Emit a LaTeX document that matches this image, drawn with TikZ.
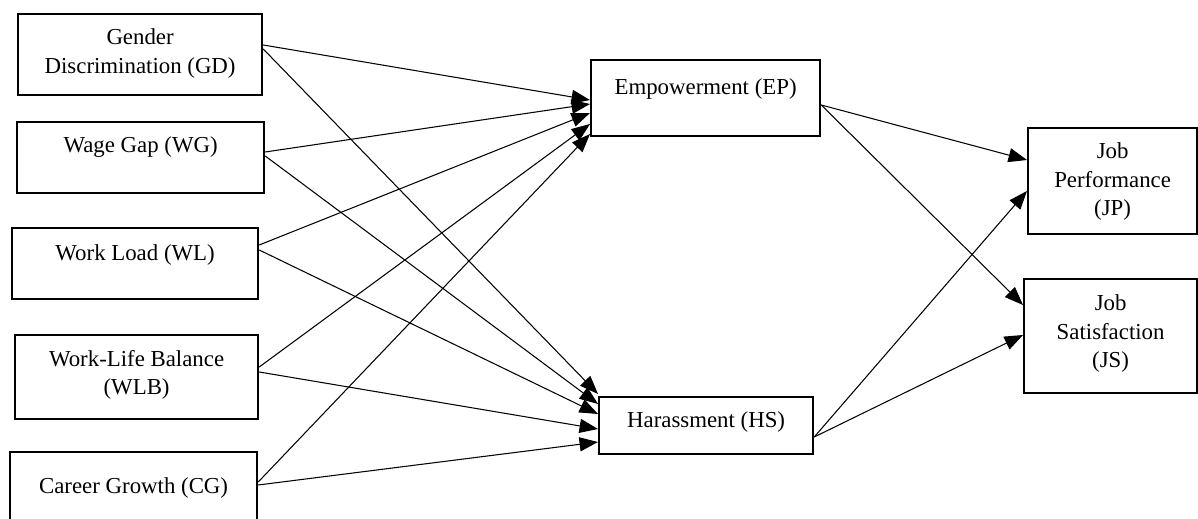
\documentclass[tikz,border=0pt]{standalone}
\usepackage{fontspec}
\setmainfont{Liberation Serif}
\usetikzlibrary{arrows.meta}

\tikzset{
    var/.style={draw, line width=1.3pt, inner sep=0pt, anchor=north west},
    link/.style={-{Triangle[length=10.5pt,width=8pt]}, line width=0.6pt},
}
\newcommand{\boxtext}[4]{\parbox[t][#2][t]{#1}{\centering\vspace*{#3}#4}}

\begin{document}
\begin{tikzpicture}[x=0.02cm, y=-0.02cm, font=\fontsize{13}{16}\selectfont]
    \useasboundingbox (0,0) rectangle (1198,519);

    % predictors
    \node[var] (GD) at (17,13) {\boxtext{4.88cm}{1.62cm}{0.30cm}{Gender\\Discrimination (GD)}};
    \node[var] (WG) at (16,121) {\boxtext{4.94cm}{1.42cm}{0.30cm}{Wage Gap (WG)}};
    \node[var] (WL) at (11,227) {\boxtext{4.92cm}{1.42cm}{0.34cm}{Work Load (WL)}};
    \node[var] (WLB) at (14,334) {\boxtext{4.86cm}{1.68cm}{0.30cm}{Work-Life Balance\\(WLB)}};
    \node[var] (CG) at (9,451) {\boxtext{4.94cm}{1.60cm}{0.52cm}{Career Growth (CG)}};

    % mediators
    \node[var] (EP) at (590,59) {\boxtext{4.58cm}{1.52cm}{0.38cm}{Empowerment (EP)}};
    \node[var] (HS) at (598,396) {\boxtext{4.28cm}{1.14cm}{0.30cm}{Harassment (HS)}};

    % outcomes
    \node[var] (JP) at (1027,127) {\boxtext{3.38cm}{2.12cm}{0.30cm}{Job\\Performance\\(JP)}};
    \node[var] (JS) at (1023,278) {\boxtext{3.46cm}{2.28cm}{0.32cm}{Job\\Satisfaction\\(JS)}};

    % paths to EP
    \draw[link] (GD.east |- 0,45) -- (EP.west |- 0,100);
    \draw[link] (WG.east |- 0,152) -- (EP.west |- 0,104);
    \draw[link] (WL.east |- 0,245) -- (EP.west |- 0,113);
    \draw[link] (WLB.east |- 0,367) -- (EP.west |- 0,124);
    \draw[link] (CG.east |- 0,482) -- (EP.west |- 0,134);

    % paths to HS
    \draw[link] (GD.east |- 0,49) -- (HS.west |- 0,394);
    \draw[link] (WG.east |- 0,156) -- (HS.west |- 0,404);
    \draw[link] (WL.east |- 0,250) -- (HS.west |- 0,414);
    \draw[link] (WLB.east |- 0,372) -- (HS.west |- 0,429);
    \draw[link] (CG.east |- 0,485) -- (HS.west |- 0,442);

    % paths to outcomes
    \draw[link] (EP.east |- 0,105) -- (JP.west |- 0,160);
    \draw[link] (EP.east |- 0,105) -- (JS.west |- 0,305);
    \draw[link] (HS.east |- 0,437) -- (JP.west |- 0,191);
    \draw[link] (HS.east |- 0,437) -- (JS.west |- 0,335);
\end{tikzpicture}
\end{document}
